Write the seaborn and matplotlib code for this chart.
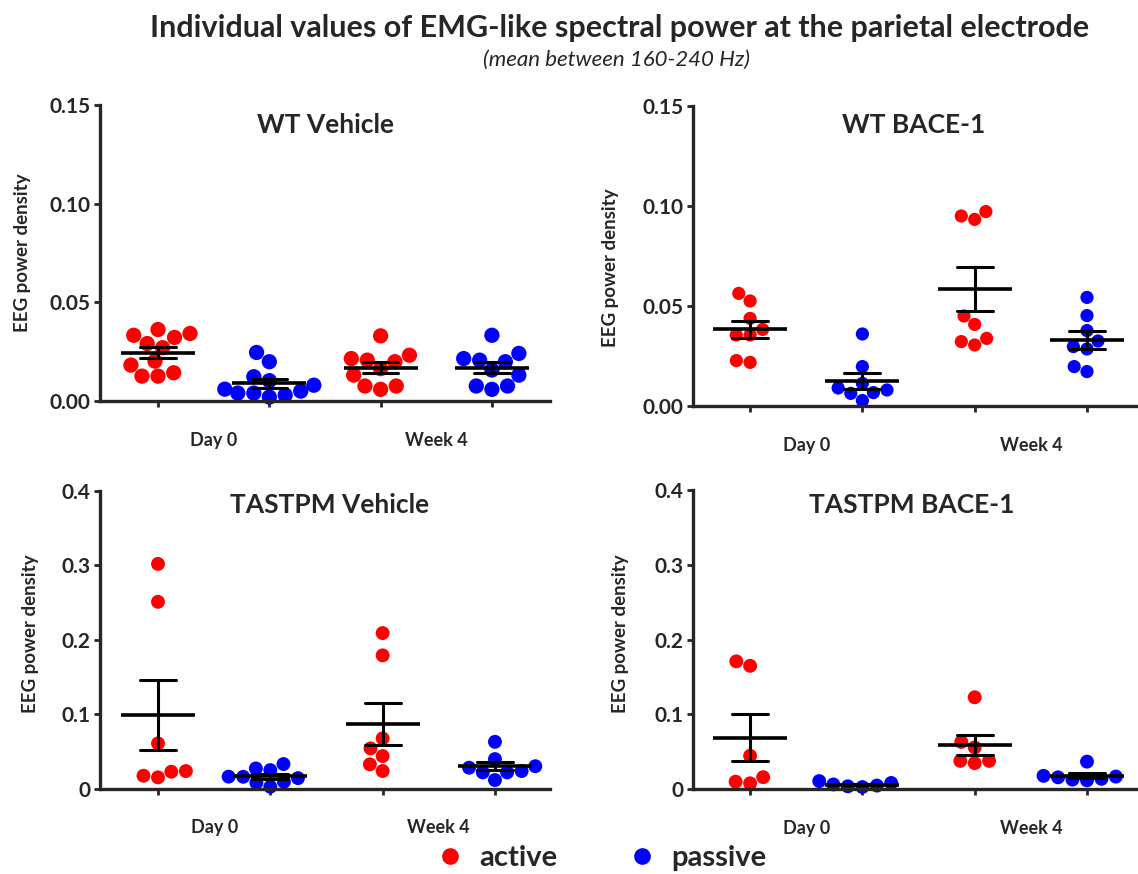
import numpy as np
import pandas as pd
import matplotlib
matplotlib.use("Agg")
import matplotlib.pyplot as plt
from matplotlib.lines import Line2D
import seaborn as sns

sns.set_style("ticks")
plt.rcParams["font.family"] = ["Lato", "DejaVu Sans"]
plt.rcParams["font.weight"] = "bold"

groups = ["Day 0 active", "Day 0 passive", "Week 4 active", "Week 4 passive"]
conds = ["active", "passive", "active", "passive"]
xlabels = ["Day 0", "Week 4"]

# WT Vehicle
wt_veh_d0_act = [0.0362, 0.0333, 0.0342, 0.0322, 0.0291, 0.027, 0.0202, 0.0182, 0.0143, 0.0126, 0.0126]
wt_veh_d0_pas = [0.0246, 0.0199, 0.0123, 0.0103, 0.008, 0.006, 0.005, 0.004, 0.003, 0.002, 0.004]
wt_veh_w4_act = [0.033, 0.0232, 0.0207, 0.0215, 0.0199, 0.0164, 0.0131, 0.0076, 0.0059, 0.0076]
wt_veh_w4_pas = [0.0333, 0.0241, 0.0207, 0.0215, 0.0199, 0.0157, 0.0131, 0.0076, 0.0059, 0.0076]

# WT BACE-1
wt_bace_d0_act = [0.0438, 0.0525, 0.0563, 0.0383, 0.0355, 0.0355, 0.0218, 0.0227]
wt_bace_d0_pas = [0.036, 0.0197, 0.0113, 0.0067, 0.0063, 0.008, 0.0027, 0.009]
wt_bace_w4_act = [0.0972, 0.0933, 0.095, 0.045, 0.0408, 0.0338, 0.0305, 0.0322]
wt_bace_w4_pas = [0.0543, 0.0452, 0.0377, 0.0325, 0.0297, 0.0285, 0.0197, 0.0172]

# TASTPM Vehicle
tg_veh_d0_act = [0.302, 0.251, 0.0607, 0.0226, 0.015, 0.0172, 0.0235]
tg_veh_d0_pas = [0.0329, 0.027, 0.0248, 0.0158, 0.0091, 0.0024, 0.0078, 0.014, 0.016]
tg_veh_w4_act = [0.209, 0.179, 0.0674, 0.054, 0.0436, 0.0325, 0.0235]
tg_veh_w4_pas = [0.0628, 0.0396, 0.028, 0.0217, 0.0114, 0.0217, 0.0235, 0.03]

# TASTPM BACE-1
tg_bace_d0_act = [0.165, 0.171, 0.0448, 0.0162, 0.008, 0.0102]
tg_bace_d0_pas = [0.005, 0.0085, 0.011, 0.004, 0.0065, 0.003]
tg_bace_w4_act = [0.123, 0.0633, 0.056, 0.038, 0.035, 0.038]
tg_bace_w4_pas = [0.037, 0.018, 0.017, 0.012, 0.014, 0.016, 0.013]

panels = [
    ("WT Vehicle", [wt_veh_d0_act, wt_veh_d0_pas, wt_veh_w4_act, wt_veh_w4_pas],
     [0.0879, 0.5412, 0.3954, 0.3387], (-0.521, 3.522), 0.15, [0, 0.05, 0.10, 0.15], "%.2f",
     (0.5, 0.932), (-0.153, 0.50), 11),
    ("WT BACE-1", [wt_bace_d0_act, wt_bace_d0_pas, wt_bace_w4_act, wt_bace_w4_pas],
     [0.609, 0.5355, 0.3893, 0.3432], (-0.508, 3.437), 0.15, [0, 0.05, 0.10, 0.15], "%.2f",
     (0.497, 0.937), (-0.167, 0.46), 9.5),
    ("TASTPM Vehicle", [tg_veh_d0_act, tg_veh_d0_pas, tg_veh_w4_act, tg_veh_w4_pas],
     [0.0879, 0.0978, 0.3954, 0.3404], (-0.516, 3.49), 0.4, [0, 0.1, 0.2, 0.3, 0.4], "%g",
     (0.511, 0.953), (-0.136, 0.52), 10),
    ("TASTPM BACE-1", [tg_bace_d0_act, tg_bace_d0_pas, tg_bace_w4_act, tg_bace_w4_pas],
     [0.609, 0.0969, 0.3893, 0.3425], (-0.508, 3.437), 0.4, [0, 0.1, 0.2, 0.3, 0.4], "%g",
     (0.494, 0.95), (-0.144, 0.52), 10),
]

palette = {"active": "#ff0000", "passive": "#0000ff"}

fig = plt.figure(figsize=(11.38, 8.74), dpi=100)

for title, series, rect, xlim, ymax, yticks, fmt, tpos, lpos, msize in panels:
    ax = fig.add_axes(rect)
    df = pd.DataFrame({
        "group": np.concatenate([[g] * len(v) for g, v in zip(groups, series)]),
        "cond": np.concatenate([[c] * len(v) for c, v in zip(conds, series)]),
        "value": np.concatenate(series),
    })
    sns.swarmplot(data=df, x="group", y="value", hue="cond", order=groups,
                  palette=palette, size=msize, linewidth=0, legend=False,
                  clip_on=False, zorder=2, ax=ax)
    sns.pointplot(data=df, x="group", y="value", order=groups, errorbar="se",
                  color="black", linestyle="none", marker="_", markersize=53,
                  markeredgewidth=2.6, capsize=0.32, err_kws={"linewidth": 2.2},
                  ax=ax)
    for ln in ax.lines:
        ln.set_zorder(3)
    ax.set_xlim(*xlim)
    ax.set_ylim(0, ymax)
    ax.set_yticks(yticks)
    ax.yaxis.set_major_formatter(matplotlib.ticker.FormatStrFormatter(fmt))
    ax.set_xticks([0, 1, 2, 3])
    ax.set_xticklabels([])
    ax.set_xticks([0.5, 2.5], minor=True)
    ax.set_xticklabels(xlabels, minor=True)
    ax.tick_params(axis="x", which="minor", length=0, pad=22, labelsize=13)
    ax.tick_params(axis="x", which="major", length=4, width=2)
    ax.tick_params(axis="y", length=4, width=2, labelsize=15, pad=3)
    for lab in ax.get_xticklabels(minor=True) + ax.get_yticklabels():
        lab.set_fontweight("bold")
    ax.set_xlabel("")
    ax.set_ylabel("EEG power density", fontsize=13.5, fontweight="bold")
    ax.yaxis.set_label_coords(*lpos)
    sns.despine(ax=ax)
    for side in ["left", "bottom"]:
        ax.spines[side].set_linewidth(2.4)
    ax.text(tpos[0], tpos[1], title, transform=ax.transAxes, ha="center",
            va="center", fontsize=19, fontweight="bold")

fig.text(0.544, 1 - 28 / 874, "Individual values of EMG-like spectral power at the parietal electrode",
         ha="center", va="center", fontsize=22, fontweight="bold")
fig.text(0.542, 1 - 60 / 874, "(mean between 160-240 Hz)", ha="center", va="center",
         fontsize=16, fontstyle="italic", fontweight="normal")

handles = [Line2D([], [], marker="o", linestyle="none", markersize=12,
                  markerfacecolor=palette[c], markeredgewidth=0, label=c)
           for c in ["active", "passive"]]
fig.legend(handles=handles, loc="center", bbox_to_anchor=(601 / 1138, 1 - 858 / 874),
           ncol=2, frameon=False, prop={"size": 21, "weight": "bold"},
           handlelength=1.0, columnspacing=2.4, handletextpad=0.5)

fig.savefig("out.png", dpi=100)
